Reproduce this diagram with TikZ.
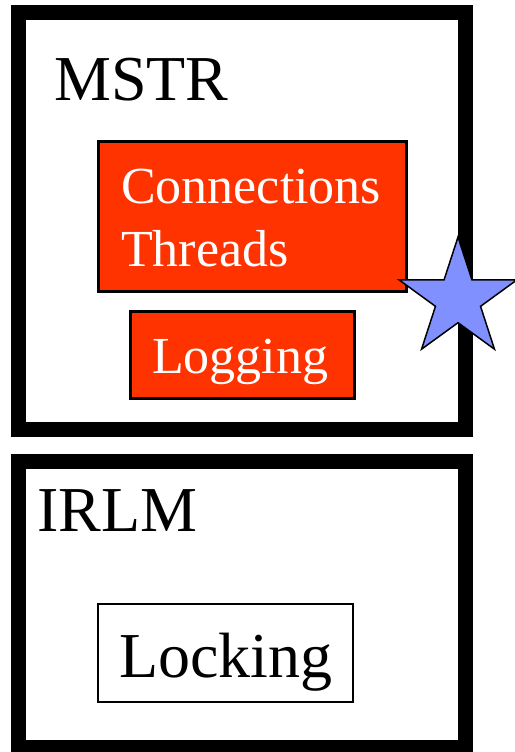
\documentclass[tikz,border=0pt]{standalone}
\usepackage{fontspec}
\setmainfont{Liberation Serif}
\definecolor{boxred}{RGB}{255,51,0}
\definecolor{starblue}{RGB}{128,144,255}
\begin{document}
\begin{tikzpicture}[x=1pt,y=-1pt,
  outerbox/.style={draw=black,line width=15pt,fill=white,minimum width=447.5pt,inner sep=0pt},
  redbox/.style={draw=black,line width=3pt,fill=boxred,inner sep=0pt},
  whitebox/.style={draw=black,line width=2pt,fill=white,inner sep=0pt},
  bigtext/.style={anchor=base west,inner sep=0pt,font=\fontsize{64}{64}\selectfont},
  redtext/.style={anchor=base west,inner sep=0pt,text=white,font=\fontsize{52}{63}\selectfont},
  starshape/.style={draw=black,line width=1.5pt,fill=starblue,line join=miter}]
\useasboundingbox (0,0) rectangle (514,752);
\fill[white] (0,0) rectangle (514,752);
% outer boxes
\node[outerbox,minimum height=416.5pt] (mstr) at (241.75,220.75) {};
\node[outerbox,minimum height=286pt] (irlm) at (241.75,604) {};
% inner boxes
\node[redbox,minimum width=308pt,minimum height=150pt] (conn) at (252.5,216.5) {};
\node[redbox,minimum width=224pt,minimum height=87pt] (log) at (242.5,355) {};
\node[whitebox,minimum width=255pt,minimum height=98pt] (lock) at (225.5,653) {};
% texts
\node[bigtext] (mstrlabel) at (54,100) {MSTR};
\node[bigtext] (irlmlabel) at (37,531) {IRLM};
\node[redtext] (conntext) at (121,203) {Connections};
\node[redtext] (threadtext) at (121,266.5) {Threads};
\node[redtext] (logtext) at (152,373) {Logging};
\node[bigtext] (locktext) at (119,677) {Locking};
% star
\begin{scope}[shift={(458,299)}]
\draw[starshape] (-90:62)
  \foreach \k in {0,...,4}{ -- ({-90+72*\k}:62) -- ({-54+72*\k}:23.7)} -- cycle;
\end{scope}
\end{tikzpicture}
\end{document}
